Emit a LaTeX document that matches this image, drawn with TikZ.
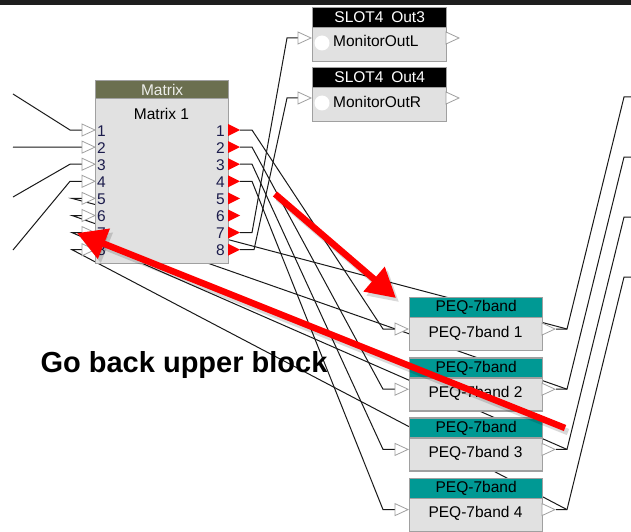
\documentclass[tikz,border=0pt]{standalone}
\usepackage{fontspec}
\setmainfont{Liberation Sans}
\usetikzlibrary{arrows.meta,backgrounds}

\definecolor{boxgray}{HTML}{E1E1E1}
\definecolor{edgegray}{HTML}{A0A0A0}
\definecolor{matrixhead}{HTML}{6B6F4F}
\definecolor{peqhead}{HTML}{009994}
\definecolor{barblack}{HTML}{1E1E1E}
\definecolor{numblue}{HTML}{1C1C4C}
\newcommand{\blk}{\fontsize{15.5}{16}\selectfont}

\begin{document}
\begin{tikzpicture}[x=1pt,y=-1pt,
    block/.style={draw=edgegray, line width=1.3pt, fill=boxgray, inner sep=0pt, anchor=north west},
    blockhead/.style={block, font=\blk},
    blocktext/.style={font=\blk, inner sep=0pt, anchor=base},
    wire/.style={line width=1pt, black!90},
    inport/.style={draw=edgegray, fill=white, line width=0.8pt},
    num/.style={font=\blk, text=numblue, inner sep=0pt},
    pointer/.style={red, line width=6.5pt, -{Triangle[length=29pt,width=31pt]}},
    pointershadow/.style={pointer, draw=black, fill=black, opacity=.15}]
    \useasboundingbox (0,0) rectangle (631,532);
    \fill[barblack] (0,0) rectangle (631,5);

    \node[block, minimum width=133pt, minimum height=183pt] (mtx) at (95,80) {};
    \node[blockhead, fill=matrixhead, text=white!88!matrixhead, minimum width=133pt, minimum height=18pt] (mtxhead) at (95,80) {Matrix};
    \node[blocktext] (mtxname) at (161.5,120) {Matrix 1};
    \foreach \k in {1,...,8} {
        \pgfmathsetmacro{\py}{130+17.1*(\k-1)}
        \coordinate (mi\k) at (82,\py);
        \coordinate (mo\k) at (240,\py);
        \draw[inport] (mi\k) ++(0,-6) -- ++(13,6) -- ++(-13,6) -- cycle;
        \fill[red] (mo\k) -- ++(-12,-6) -- ++(0,12) -- cycle;
        \node[num, anchor=base west] at (97,\py+6) {\k};
        \node[num, anchor=base east] at (225,\py+6) {\k};
    }

    \foreach \s/\sy/\side in {3/7/L, 4/67/R} {
        \node[block, minimum width=134pt, minimum height=54pt] (slot\s) at (312,\sy) {};
        \node[blockhead, fill=black, text=white, minimum width=134pt, minimum height=20pt] (slothead\s) at (312,\sy) {SLOT4\enspace Out\s};
        \fill[white] (322,\sy+36) circle (7.5);
        \node[blocktext, anchor=base west] (slotname\s) at (333,\sy+40) {MonitorOut\side};
        \coordinate (si\s) at (298,\sy+31);
        \coordinate (so\s) at (446,\sy+31);
        \draw[inport] (si\s) ++(0,-6) -- ++(13,6) -- ++(-13,6) -- cycle;
        \draw[inport] (so\s) ++(0,-6) -- ++(13,6) -- ++(-13,6) -- cycle;
    }

    \foreach \k in {1,...,4} {
        \pgfmathsetmacro{\py}{297+60.2*(\k-1)}
        \pgfmathsetmacro{\ry}{97+60*(\k-1)}
        \node[block, minimum width=133pt, minimum height=53pt] (peq\k) at (409,\py) {};
        \node[blockhead, fill=peqhead, minimum width=133pt, minimum height=20pt] (peqhead\k) at (409,\py) {PEQ-7band};
        \node[blocktext] (peqname\k) at (475.5,\py+40) {PEQ-7band \k};
        \coordinate (pi\k) at (395,\py+32);
        \coordinate (po\k) at (542,\py+32);
        \coordinate (pc\k) at (567,\py+32);
        \coordinate (pu\k) at (624,\ry);
        \coordinate (pe\k) at (631,\ry);
        \draw[inport] (pi\k) ++(0,-6) -- ++(13,6) -- ++(-13,6) -- cycle;
        \draw[inport] (po\k) ++(0,-6) -- ++(13,6) -- ++(-13,6) -- cycle;
    }

    \begin{scope}[on background layer]
        \fill[white] (0,0) rectangle (631,532);
        \coordinate (src1) at (13,94);
        \coordinate (src2) at (13,147);
        \coordinate (src3) at (13,197);
        \coordinate (src4) at (13,250);
        \draw[wire] (src1) -- ([xshift=-12pt]mi1) -- (mi1);
        \draw[wire] (src2) -- (mi2);
        \draw[wire] (src3) -- ([xshift=-12pt]mi3) -- (mi3);
        \draw[wire] (src4) -- ([xshift=-12pt]mi4) -- (mi4);
        \foreach \k in {1,...,4}
            \draw[wire] (mo\k) -- ++(12,0) -- ([xshift=-12pt]pi\k) -- (pi\k);
        \draw[wire] (mo7) -- ++(12,0) -- ([xshift=-11pt]si3) -- (si3);
        \draw[wire] (mo8) -- ++(14,0) -- ([xshift=-11pt]si4) -- (si4);
        \foreach \k [evaluate=\k as \j using int(\k+4)] in {1,...,4} {
            \draw[wire] ([xshift=14pt]po\k) -- (pc\k) -- (pu\k) -- (pe\k);
            \draw[wire] (pc\k) -- ([xshift=-10pt]mi\j) -- (mi\j);
        }
    \end{scope}

    \coordinate (a1s) at (275,194);
    \coordinate (a1e) at (396,298);
    \coordinate (a2s) at (565,428);
    \coordinate (a2e) at (77,233);
    \draw[pointershadow] ([shift={(3pt,-4pt)}]a1s) -- ([shift={(3pt,-4pt)}]a1e);
    \draw[pointershadow] ([shift={(3pt,-4pt)}]a2s) -- ([shift={(3pt,-4pt)}]a2e);
    \draw[pointer] (a1s) -- (a1e);
    \draw[pointer] (a2s) -- (a2e);
    \node[font=\bfseries\fontsize{29}{29}\selectfont, anchor=base] (note) at (184,372) {Go back upper block};
\end{tikzpicture}
\end{document}
